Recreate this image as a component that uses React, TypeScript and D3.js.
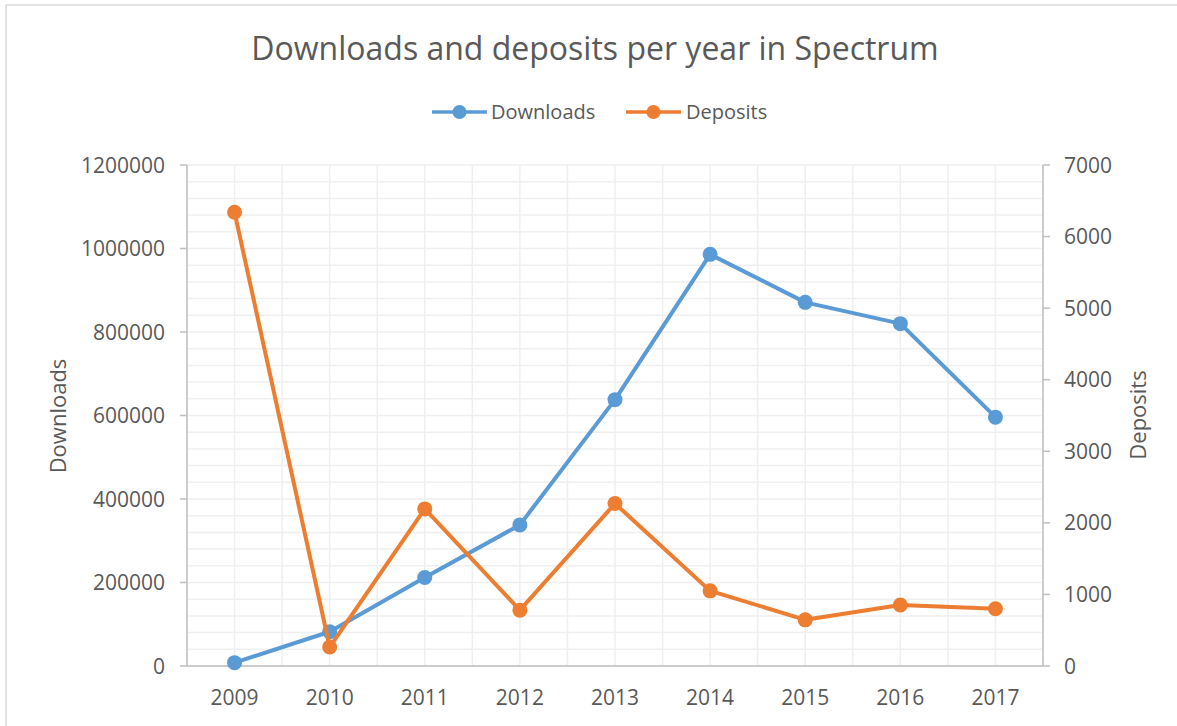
import React from "react";
import * as d3 from "d3";

const years = ["2009", "2010", "2011", "2012", "2013", "2014", "2015", "2016", "2017"];
const downloads = [8000, 82000, 212000, 338000, 638000, 986000, 871000, 820000, 596000];
const deposits = [6340, 265, 2195, 780, 2270, 1050, 645, 852, 800];
const leftTicks = [0, 200000, 400000, 600000, 800000, 1000000, 1200000];
const rightTicks = [0, 1000, 2000, 3000, 4000, 5000, 6000, 7000];

const W = 1177;
const H = 726;
const FONT = "'Open Sans', sans-serif";
const TEXT = "#595959";
const BLUE = "#5b9bd5";
const ORANGE = "#ed7d31";

export default function App() {
  const left = 187;
  const right = 1043;
  const top = 165;
  const bottom = 666;

  const x = d3.scaleBand<string>().domain(years).range([left, right]).padding(0);
  const cx = (y: string) => (x(y) as number) + x.bandwidth() / 2;
  const yL = d3.scaleLinear().domain([0, 1200000]).range([bottom, top]);
  const yR = d3.scaleLinear().domain([0, 7000]).range([bottom, top]);

  const minorH = d3.range(0, 1200000 + 1, 40000);
  const vLines: number[] = [];
  years.forEach((y) => {
    vLines.push(x(y) as number);
    vLines.push(cx(y));
  });
  vLines.push(right);

  const lineD = d3
    .line<number>()
    .x((_, i) => cx(years[i]))
    .y((d) => yL(d));
  const lineP = d3
    .line<number>()
    .x((_, i) => cx(years[i]))
    .y((d) => yR(d));

  return (
    <svg
      width={W}
      height={H}
      style={{ position: "absolute", left: 0, top: 0, background: "#fff" }}
      fontFamily={FONT}
    >
      <rect x={0} y={0} width={W} height={H} fill="#fff" />
      <line x1={6} y1={5} x2={W} y2={5} stroke="#d9d9d9" strokeWidth={1.5} />
      <line x1={6} y1={5} x2={6} y2={H} stroke="#d9d9d9" strokeWidth={1.5} />

      <text x={595} y={60} textAnchor="middle" fontSize={32} fill={TEXT}>
        Downloads and deposits per year in Spectrum
      </text>

      {/* legend */}
      <g>
        <line x1={432} y1={112} x2={487} y2={112} stroke={BLUE} strokeWidth={3.5} />
        <circle cx={459.5} cy={112} r={7} fill={BLUE} />
        <text x={491} y={119} fontSize={20} fill={TEXT}>Downloads</text>
        <line x1={626} y1={112} x2={681} y2={112} stroke={ORANGE} strokeWidth={3.5} />
        <circle cx={653.5} cy={112} r={7} fill={ORANGE} />
        <text x={686} y={119} fontSize={20} fill={TEXT}>Deposits</text>
      </g>

      {/* gridlines */}
      {minorH.map((v) => (
        <line key={"h" + v} x1={left} x2={right} y1={yL(v)} y2={yL(v)} stroke="#efefef" strokeWidth={1.5} />
      ))}
      {vLines.map((v, i) => (
        <line key={"v" + i} x1={v} x2={v} y1={top} y2={bottom} stroke="#efefef" strokeWidth={1.5} />
      ))}

      {/* axes */}
      <line x1={left} x2={left} y1={top} y2={bottom} stroke="#bfbfbf" strokeWidth={1.5} />
      <line x1={right} x2={right} y1={top} y2={bottom} stroke="#bfbfbf" strokeWidth={1.5} />
      <line x1={left} x2={right} y1={bottom} y2={bottom} stroke="#bfbfbf" strokeWidth={1.5} />
      {leftTicks.map((t) => (
        <g key={"l" + t}>
          <line x1={180} x2={left} y1={yL(t)} y2={yL(t)} stroke="#bfbfbf" strokeWidth={1.5} />
          <text x={165} y={yL(t) + 7.5} textAnchor="end" fontSize={21} fill={TEXT}>
            {t}
          </text>
        </g>
      ))}
      {rightTicks.map((t) => (
        <g key={"r" + t}>
          <line x1={right} x2={right + 7} y1={yR(t)} y2={yR(t)} stroke="#bfbfbf" strokeWidth={1.5} />
          <text x={1064} y={yR(t) + 7.5} textAnchor="start" fontSize={21} fill={TEXT}>
            {t}
          </text>
        </g>
      ))}
      {years.map((y) => (
        <text key={"x" + y} x={cx(y)} y={705} textAnchor="middle" fontSize={21} fill={TEXT}>
          {y}
        </text>
      ))}

      <text
        transform={`translate(66,416) rotate(-90)`}
        textAnchor="middle"
        fontSize={22}
        fill={TEXT}
      >
        Downloads
      </text>
      <text
        transform={`translate(1146,415) rotate(-90)`}
        textAnchor="middle"
        fontSize={22}
        fill={TEXT}
      >
        Deposits
      </text>

      {/* series */}
      <path d={lineD(downloads) || ""} fill="none" stroke={BLUE} strokeWidth={4} strokeLinejoin="round" />
      {downloads.map((d, i) => (
        <circle key={"dc" + i} cx={cx(years[i])} cy={yL(d)} r={7.5} fill={BLUE} />
      ))}
      <path d={lineP(deposits) || ""} fill="none" stroke={ORANGE} strokeWidth={4} strokeLinejoin="round" />
      {deposits.map((d, i) => (
        <circle key={"pc" + i} cx={cx(years[i])} cy={yR(d)} r={7.5} fill={ORANGE} />
      ))}
    </svg>
  );
}
